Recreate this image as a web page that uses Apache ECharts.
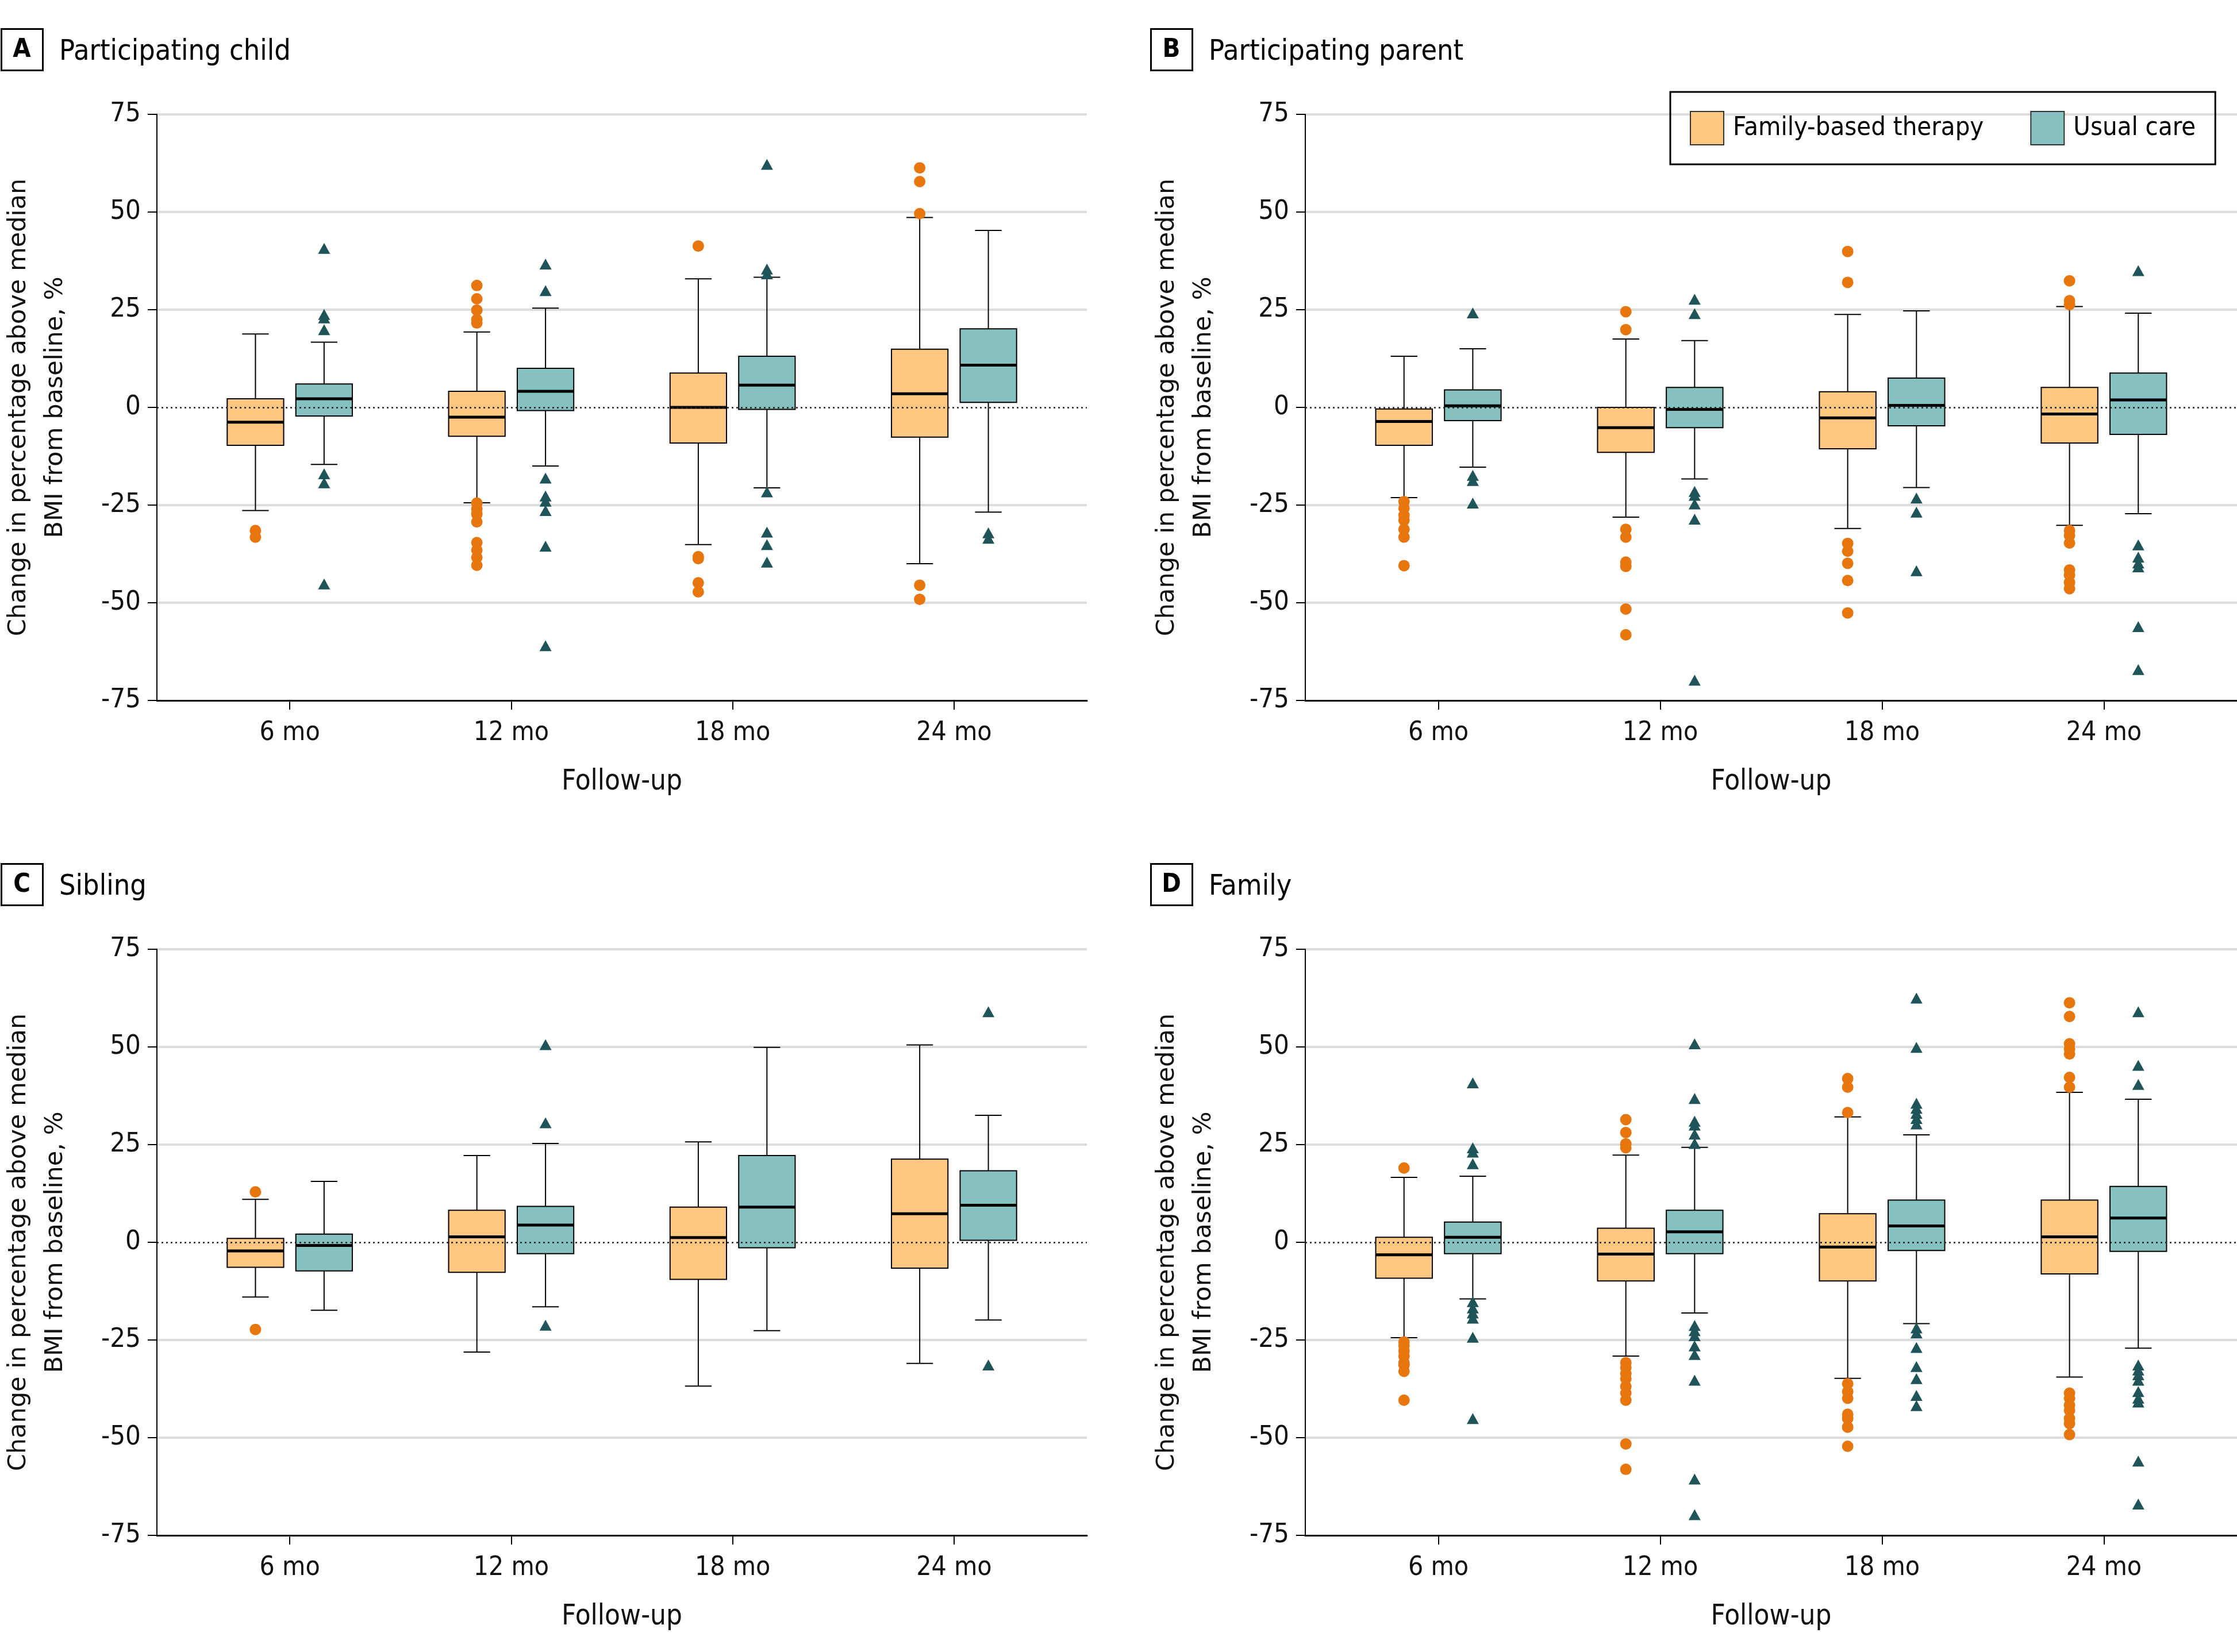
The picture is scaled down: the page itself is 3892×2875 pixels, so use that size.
<!DOCTYPE html>
<html><head><meta charset="utf-8">
<script src="https://cdn.jsdelivr.net/npm/echarts@6/dist/echarts.min.js"></script>
<style>html,body{margin:0;padding:0;background:#fff}#c{width:3892px;height:2875px}</style>
</head><body><div id="c"></div><script>
// ---------- DATA ----------
const xLabels = ['6 mo', '12 mo', '18 mo', '24 mo'];
const yTicks = [-75, -50, -25, 0, 25, 50, 75];
const groupNames = ['Family-based therapy', 'Usual care'];
// box stats per follow-up: [lower whisker, Q1, median, Q3, upper whisker]
const childFBT = [[-26.4, -9.7, -3.8, 2.2, 18.8], [-24.4, -7.4, -2.5, 4.1, 19.3], [-35.1, -9.1, 0.0, 8.8, 32.9], [-40.0, -7.6, 3.5, 14.9, 48.6]];
const childUC = [[-14.6, -2.2, 2.2, 6.0, 16.7], [-15.0, -0.8, 4.1, 10.0, 25.4], [-20.6, -0.5, 5.7, 13.1, 33.3], [-26.8, 1.3, 10.8, 20.1, 45.3]];
const childFBTOut = [[-31.5, -33.2], [31.2, 27.8, 24.9, 22.5, 21.6, -24.5, -26.0, -27.3, -29.3, -34.6, -36.5, -38.4, -40.4], [41.3, -38.2, -38.7, -44.9, -47.2], [61.3, 57.8, 49.6, -45.5, -49.1]];
const childUCOut = [[40.7, 23.8, 22.9, 19.9, -17.0, -19.3, -45.2], [36.7, 29.9, -18.1, -22.7, -24.0, -26.4, -35.5, -61.0], [62.2, 35.4, 34.2, -21.6, -31.9, -35.1, -39.6], [-32.1, -33.5]];

const parentFBT = [[-23.1, -9.7, -3.6, -0.4, 13.1], [-28.1, -11.5, -5.2, 0.0, 17.5], [-31.0, -10.6, -2.7, 4.0, 23.8], [-30.2, -9.1, -1.7, 5.1, 25.8]];
const parentUC = [[-15.3, -3.4, 0.4, 4.5, 15.0], [-18.3, -5.2, -0.5, 5.1, 17.1], [-20.5, -4.7, 0.5, 7.5, 24.7], [-27.2, -6.9, 1.9, 8.8, 24.1]];
const parentFBTOut = [[-24.1, -25.8, -27.6, -28.9, -31.2, -33.2, -40.5], [24.5, 19.9, -31.2, -33.2, -39.6, -40.7, -51.6, -58.2], [39.9, 32.0, -34.8, -36.8, -39.9, -44.3, -52.6], [32.4, 27.3, 26.3, -31.5, -32.8, -34.7, -41.6, -42.9, -44.8, -46.4]];
const parentUCOut = [[24.2, -17.4, -18.7, -24.5], [27.7, 24.0, -21.5, -22.5, -24.7, -28.6, -69.8], [-23.2, -26.8, -41.8], [35.0, -35.2, -38.3, -39.8, -40.8, -56.1, -67.1]];

const siblingFBT = [[-14.0, -6.4, -2.2, 1.0, 11.0], [-28.1, -7.7, 1.4, 8.2, 22.2], [-36.8, -9.5, 1.2, 9.0, 25.7], [-31.0, -6.6, 7.3, 21.3, 50.5]];
const siblingUC = [[-17.4, -7.3, -0.8, 2.1, 15.6], [-16.5, -2.9, 4.4, 9.2, 25.3], [-22.6, -1.4, 9.0, 22.2, 49.9], [-19.9, 0.5, 9.5, 18.3, 32.5]];
const siblingFBTOut = [[12.9, -22.3], [], [], []];
const siblingUCOut = [[], [50.6, 30.6, -21.2], [], [59.0, -31.4]];

const familyFBT = [[-24.4, -9.2, -3.2, 1.3, 16.6], [-29.1, -9.9, -3.0, 3.6, 22.3], [-34.8, -9.9, -1.2, 7.3, 32.1], [-34.5, -8.1, 1.4, 10.8, 38.4]];
const familyUC = [[-14.5, -2.9, 1.3, 5.2, 16.9], [-18.1, -2.9, 2.7, 8.2, 24.3], [-20.8, -2.1, 4.2, 10.8, 27.5], [-27.1, -2.3, 6.2, 14.3, 36.6]];
const familyFBTOut = [[19.0, -25.5, -26.5, -27.8, -29.1, -30.8, -31.4, -33.0, -40.4], [31.4, 28.1, 25.2, 24.2, -30.8, -32.1, -33.6, -34.9, -36.9, -38.6, -40.4, -51.6, -58.1], [41.9, 39.7, 33.2, -36.2, -38.2, -39.9, -44.0, -45.1, -47.3, -52.2], [61.3, 57.8, 50.8, 49.5, 48.2, 42.2, 39.7, -38.6, -39.9, -41.7, -43.0, -45.1, -46.4, -49.2]];
const familyUCOut = [[40.8, 24.2, 23.1, 20.1, -15.2, -16.8, -18.1, -19.4, -24.3, -45.1], [50.8, 36.8, 31.0, 30.0, 27.7, 25.3, -21.3, -22.6, -23.9, -26.5, -28.7, -35.3, -60.6, -69.7], [62.5, 49.9, 35.6, 34.3, 33.0, 31.7, 30.3, -21.9, -23.2, -26.9, -31.8, -34.9, -39.2, -41.8], [59.0, 45.3, 40.4, -31.4, -32.7, -33.9, -35.3, -38.2, -39.9, -40.9, -56.0, -67.0]];

const panels = [
  { letter: 'A', title: 'Participating child', fbt: childFBT, uc: childUC, fbtOut: childFBTOut, ucOut: childUCOut },
  { letter: 'B', title: 'Participating parent', fbt: parentFBT, uc: parentUC, fbtOut: parentFBTOut, ucOut: parentUCOut },
  { letter: 'C', title: 'Sibling', fbt: siblingFBT, uc: siblingUC, fbtOut: siblingFBTOut, ucOut: siblingUCOut },
  { letter: 'D', title: 'Family', fbt: familyFBT, uc: familyUC, fbtOut: familyFBTOut, ucOut: familyUCOut }
];

// ---------- STYLE / LAYOUT ----------
const COND = '"DejaVu Sans Condensed", "Liberation Sans Narrow", "DejaVu Sans", sans-serif';
const WIDE = '"DejaVu Sans", Verdana, sans-serif';
const TXT = '#111';
const FBT_FILL = '#FFC781', UC_FILL = '#85C1BE';
const FBT_PT = '#E8760F', UC_PT = '#1F5458';
const X_MIN = 0.4, X_MAX = 4.6;
const OFF = 0.155, BOX_W = 0.255, CAP_W = 0.12;
const lefts = [272, 2271], tops = [199, 1652];
const widths = [1619, 1621], H = 1020;

function renderBox(side, fill) {
  return function (params, api) {
    const ci = api.value(0);
    const unit = api.size([1, 0])[0];
    const cx = api.coord([ci, 0])[0] + side * OFF * unit;
    const hw = BOX_W * unit / 2, cw = CAP_W * unit / 2;
    const y = v => api.coord([ci, v])[1];
    const lo = y(api.value(1)), q1 = y(api.value(2)), md = y(api.value(3)), q3 = y(api.value(4)), hi = y(api.value(5));
    const ls = { stroke: '#000', lineWidth: 2 };
    return {
      type: 'group', children: [
        { type: 'line', shape: { x1: cx, y1: hi, x2: cx, y2: q3 }, style: ls },
        { type: 'line', shape: { x1: cx, y1: q1, x2: cx, y2: lo }, style: ls },
        { type: 'line', shape: { x1: cx - cw, y1: hi, x2: cx + cw, y2: hi }, style: ls },
        { type: 'line', shape: { x1: cx - cw, y1: lo, x2: cx + cw, y2: lo }, style: ls },
        { type: 'rect', shape: { x: cx - hw, y: q3, width: 2 * hw, height: q1 - q3 }, style: { fill: fill, stroke: '#000', lineWidth: 2 } },
        { type: 'line', shape: { x1: cx - hw, y1: md, x2: cx + hw, y2: md }, style: { stroke: '#000', lineWidth: 5 } }
      ]
    };
  };
}

const grid = [], xAxis = [], yAxis = [], series = [], title = [], graphic = [];
panels.forEach((p, k) => {
  const col = k % 2, row = Math.floor(k / 2);
  const gw = widths[col];
  const unitPx = gw / (X_MAX - X_MIN);
  grid.push({ left: lefts[col], top: tops[row], width: gw, height: H });
  xAxis.push({
    type: 'value', gridIndex: k, min: X_MIN, max: X_MAX,
    name: 'Follow-up', nameLocation: 'middle', nameGap: 114,
    nameTextStyle: { fontFamily: COND, fontSize: 49, color: TXT, lineHeight: 56 },
    axisLine: { onZero: false, lineStyle: { color: '#000', width: 3 } },
    axisTick: { customValues: [1, 2, 3, 4], length: 16, lineStyle: { color: '#000', width: 2 } },
    axisLabel: { customValues: [1, 2, 3, 4], formatter: v => xLabels[Math.round(v) - 1], fontFamily: COND, fontSize: 46, color: TXT, margin: 34 },
    splitLine: { show: false }
  });
  yAxis.push({
    type: 'value', gridIndex: k, min: yTicks[0], max: yTicks[yTicks.length - 1], interval: 25,
    name: 'Change in percentage above median\nBMI from baseline, %', nameLocation: 'middle', nameGap: 144, nameRotate: 90,
    nameTextStyle: { fontFamily: WIDE, fontSize: 43, color: TXT, lineHeight: 64 },
    axisLine: { show: true, onZero: false, lineStyle: { color: '#000', width: 2 } },
    axisTick: { show: true, length: 16, lineStyle: { color: '#000', width: 2 } },
    axisLabel: { fontFamily: COND, fontSize: 47, color: TXT, margin: 28 },
    splitLine: { show: true, lineStyle: { color: yTicks.map(v => v === 0 || v === -75 ? 'rgba(0,0,0,0)' : '#dcdcdc'), width: 4 } }
  });
  series.push({
    type: 'line', xAxisIndex: k, yAxisIndex: k, data: [], z: 1, silent: true,
    markLine: { silent: true, symbol: 'none', label: { show: false }, data: [{ yAxis: 0 }], lineStyle: { color: '#222', type: [3, 5], width: 2.5 } }
  });
  [[p.fbt, p.fbtOut, -1, FBT_FILL, FBT_PT, 'circle', 20, groupNames[0]],
   [p.uc, p.ucOut, 1, UC_FILL, UC_PT, 'triangle', [21, 19], groupNames[1]]].forEach(g => {
    const [stats, outs, side, fill, pt, sym, size, name] = g;
    series.push({
      type: 'custom', name: name, xAxisIndex: k, yAxisIndex: k, z: 3,
      itemStyle: { color: fill },
      renderItem: renderBox(side, fill),
      encode: { x: 0, y: [1, 2, 3, 4, 5] },
      data: stats.map((s, i) => [i + 1].concat(s))
    });
    series.push({
      type: 'scatter', name: name, xAxisIndex: k, yAxisIndex: k, z: 4,
      symbol: sym, symbolSize: size, symbolOffset: [side * OFF * unitPx, 0],
      itemStyle: { color: pt, opacity: 1 },
      data: outs.flatMap((arr, i) => arr.map(v => [i + 1, v]))
    });
  });
  const bx = col === 0 ? 2 : 2002;
  const by = row === 0 ? 50 : 1503;
  graphic.push({
    type: 'rect', left: bx - 1, top: by - 1, z: 10,
    shape: { width: 72, height: 72 },
    style: { fill: '#fff', stroke: '#000', lineWidth: 3 }
  });
  graphic.push({
    type: 'text', z: 11, x: bx + 36, y: by + 37,
    style: { text: p.letter, fontFamily: COND, fontWeight: 'bold', fontSize: 45, fill: '#000', textAlign: 'center', textVerticalAlign: 'middle' }
  });
  title.push({
    text: p.title, left: bx + 101, top: by + 11, padding: 0,
    textStyle: { fontFamily: COND, fontWeight: 'normal', fontSize: 50, color: '#000', lineHeight: 60 }
  });
});

const chart = echarts.init(document.getElementById('c'), null, { renderer: 'canvas' });
chart.setOption({
  animation: false,
  backgroundColor: '#fff',
  title: title,
  graphic: graphic,
  legend: {
    left: 2906, top: 160, orient: 'horizontal',
    padding: [33, 34, 33, 34], itemGap: 81, itemWidth: 58, itemHeight: 58,
    borderColor: '#000', borderWidth: 3,
    textStyle: { fontFamily: COND, fontSize: 45, color: '#000', padding: [0, 0, 0, 11] },
    data: [
      { name: groupNames[0], icon: 'rect', itemStyle: { color: FBT_FILL, borderColor: '#333', borderWidth: 2 } },
      { name: groupNames[1], icon: 'rect', itemStyle: { color: UC_FILL, borderColor: '#333', borderWidth: 2 } }
    ]
  },
  grid: grid, xAxis: xAxis, yAxis: yAxis, series: series
});
</script></body></html>
